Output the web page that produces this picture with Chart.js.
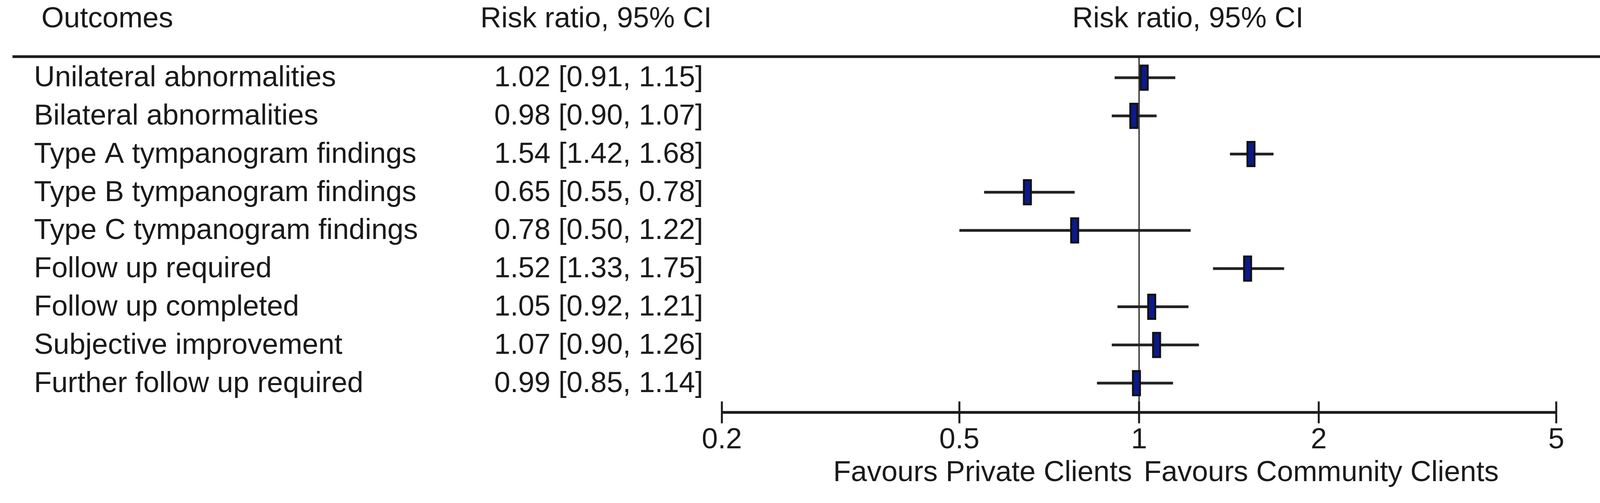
<!DOCTYPE html>
<html>
<head>
<meta charset="utf-8">
<script src="https://cdn.jsdelivr.net/npm/chart.js@4"></script>
<style>
  html, body { margin: 0; padding: 0; background: #fff; }
  #wrap { width: 4146px; height: 1288px; position: relative; }
</style>
</head>
<body>
<div id="wrap"><canvas id="forest"></canvas></div>
<script>
const outcomes = [
  "Unilateral abnormalities",
  "Bilateral abnormalities",
  "Type A tympanogram findings",
  "Type B tympanogram findings",
  "Type C tympanogram findings",
  "Follow up required",
  "Follow up completed",
  "Subjective improvement",
  "Further follow up required"
];
const riskRatio = [1.02, 0.98, 1.54, 0.65, 0.78, 1.52, 1.05, 1.07, 0.99];
const ciLow     = [0.91, 0.90, 1.42, 0.55, 0.50, 1.33, 0.92, 0.90, 0.85];
const ciHigh    = [1.15, 1.07, 1.68, 0.78, 1.22, 1.75, 1.21, 1.26, 1.14];
const tickValues = [0.2, 0.5, 1, 2, 5];

const FONT = '"Liberation Sans", Arial, sans-serif';
const INK = "#1a1a1a";

// ------------------ DRAWING ------------------
const forestPlugin = {
  id: "forest",
  afterDatasetsDraw(chart) {
    const ctx = chart.ctx;
    const xs = chart.scales.x, ys = chart.scales.y;
    const area = chart.chartArea;
    ctx.save();

    // header
    ctx.fillStyle = INK;
    ctx.font = "74px " + FONT;
    ctx.textBaseline = "middle";
    ctx.textAlign = "left";
    ctx.fillText("Outcomes", 106, 50);
    ctx.textAlign = "right";
    ctx.fillText("Risk ratio, 95% CI", 1822, 50);
    ctx.textAlign = "center";
    ctx.fillText("Risk ratio, 95% CI", 3041, 50);

    ctx.strokeStyle = INK;
    ctx.lineWidth = 7;
    ctx.beginPath();
    ctx.moveTo(32, 145);
    ctx.lineTo(4146, 145);
    ctx.stroke();

    // line of no effect
    const x1 = xs.getPixelForValue(1);
    ctx.lineWidth = 3;
    ctx.beginPath();
    ctx.moveTo(x1, 145);
    ctx.lineTo(x1, area.bottom);
    ctx.stroke();

    // rows
    outcomes.forEach((name, i) => {
      const y = ys.getPixelForValue(i + 1);
      ctx.fillStyle = INK;
      ctx.textAlign = "left";
      ctx.fillText(name, 87, y + 2);
      ctx.textAlign = "right";
      ctx.fillText(riskRatio[i].toFixed(2) + " [" + ciLow[i].toFixed(2) + ", " + ciHigh[i].toFixed(2) + "]", 1800, y + 2);

      ctx.lineWidth = 7;
      ctx.strokeStyle = "#222";
      ctx.beginPath();
      ctx.moveTo(xs.getPixelForValue(ciLow[i]), y);
      ctx.lineTo(xs.getPixelForValue(ciHigh[i]), y);
      ctx.stroke();

      const px = xs.getPixelForValue(riskRatio[i]);
      ctx.fillStyle = "#0a1a8c";
      ctx.fillRect(px - 9, y - 31, 18, 62);
      ctx.lineWidth = 5;
      ctx.strokeStyle = "#111";
      ctx.strokeRect(px - 9, y - 31, 18, 62);
    });

    // axis
    const ay = 1056;
    ctx.strokeStyle = INK;
    ctx.lineWidth = 7;
    ctx.beginPath();
    ctx.moveTo(xs.getPixelForValue(0.2), ay);
    ctx.lineTo(xs.getPixelForValue(5), ay);
    ctx.stroke();
    ctx.lineWidth = 5;
    ctx.fillStyle = INK;
    ctx.textAlign = "center";
    tickValues.forEach(v => {
      const tx = xs.getPixelForValue(v);
      ctx.beginPath();
      ctx.moveTo(tx, ay - 28);
      ctx.lineTo(tx, ay + 28);
      ctx.stroke();
      ctx.fillText(String(v), tx, 1128);
    });
    ctx.textAlign = "right";
    ctx.fillText("Favours Private Clients", x1 - 18, 1212);
    ctx.textAlign = "left";
    ctx.fillText("Favours Community Clients", x1 + 12, 1212);

    ctx.restore();
  }
};

new Chart(document.getElementById("forest"), {
  type: "scatter",
  data: { datasets: [{ data: riskRatio.map((v, i) => ({ x: v, y: i + 1 })), pointRadius: 0 }] },
  options: {
    responsive: true,
    maintainAspectRatio: false,
    animation: false,
    events: [],
    layout: { padding: { left: 1848, right: 162, top: 150, bottom: 258 } },
    plugins: { legend: { display: false }, tooltip: { enabled: false } },
    scales: {
      x: { type: "logarithmic", min: 0.2, max: 5, display: false },
      y: { type: "linear", min: 0.5, max: 9.5, reverse: true, display: false }
    }
  },
  plugins: [forestPlugin]
});
</script>
</body>
</html>
